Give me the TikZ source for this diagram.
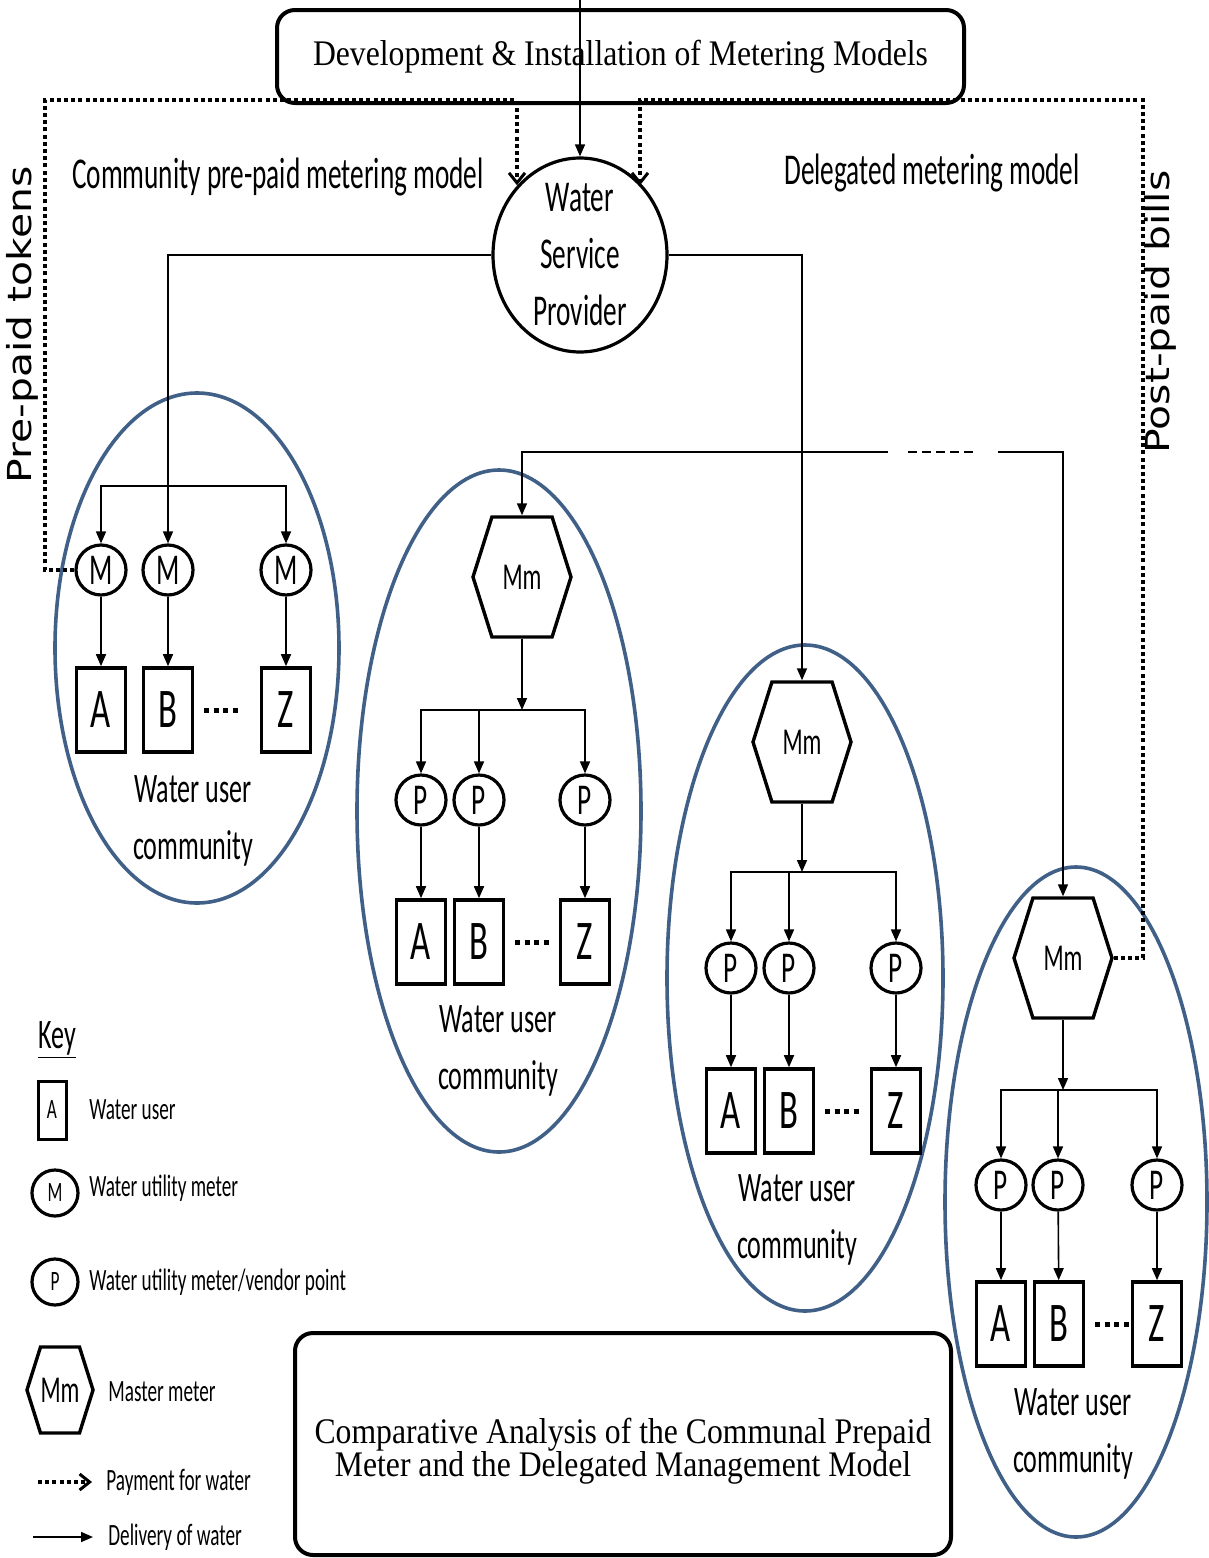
\documentclass[tikz,border=0pt]{standalone}
\usepackage{fontspec}
\setmainfont[FakeStretch=0.88]{Liberation Serif}
\newfontfamily\calfont[FakeStretch=0.62]{Carlito}
\newfontfamily\dejafont[FakeStretch=1.24]{DejaVu Sans}
\usetikzlibrary{arrows.meta,shapes.geometric,shapes.symbols}

\definecolor{ringblue}{RGB}{64,96,136}

\tikzset{
  titlebox/.style={draw, line width=2pt, rounded corners=9pt, align=center, font=\fontsize{18}{16.5}\selectfont},
  meter/.style={circle, draw, line width=1.6pt, minimum size=25pt, inner sep=0pt, font=\calfont\fontsize{22}{22}\selectfont},
  userbox/.style={rectangle, draw, line width=1.8pt, minimum width=24.5pt, minimum height=42pt, inner sep=0pt, font=\calfont\fontsize{28}{28}\selectfont},
  mmeter/.style={signal, signal to=east and west, signal pointer angle=145, draw, line width=1.7pt, minimum width=49pt, minimum height=60pt, inner sep=0pt, font=\calfont\fontsize{19}{19}\selectfont},
  commtext/.style={align=center, font=\calfont\fontsize{21}{28.5}\selectfont},
  modeltext/.style={font=\calfont\fontsize{22}{22}\selectfont},
  sidetext/.style={rotate=90, font=\dejafont\fontsize{16.5}{16.5}\selectfont},
  keytext/.style={anchor=west, inner sep=0pt, font=\calfont\fontsize{15.5}{15.5}\selectfont},
  deliv/.style={line width=0.8pt, -{Triangle[length=6pt,width=5pt]}},
  pay/.style={line width=2pt, dash pattern=on 2pt off 1.6pt, -{Straight Barb[length=5pt,width=8pt,line width=1.5pt]}},
  ring/.style={draw=ringblue, line width=1.8pt},
  moredots/.style={line width=2.5pt, dash pattern=on 2.5pt off 2.2pt},
}

\begin{document}
\begin{tikzpicture}[x=0.5pt,y=-0.5pt]
\useasboundingbox (0,0) rectangle (1209,1558);

% communities
\draw[ring] (197,648) ellipse [x radius=142, y radius=255];
\draw[ring] (499,811) ellipse [x radius=142, y radius=341];
\draw[ring] (805,978) ellipse [x radius=138, y radius=333];
\draw[ring] (1076,1202) ellipse [x radius=131, y radius=335];

% top and provider
\node[titlebox, minimum width=343.5pt, minimum height=46.5pt] (dev) at (620.5,56.5) {Development \& Installation of Metering Models};
\node[ellipse, draw, line width=1.6pt, minimum width=87pt, minimum height=97pt, inner sep=0pt,
  label={[align=center, font=\calfont\fontsize{22}{28.5}\selectfont]center:{Water\\Service\\Provider}}] (wsp) at (580,255) {};
\coordinate (feed) at (580,0);
\draw[deliv] (feed) -- (wsp.north);

\node[modeltext] (prepaid) at (278,177) {Community pre-paid metering model};
\node[modeltext] (delegated) at (932,173) {Delegated metering model};
\node[sidetext] (toklabel) at (22,325) {Pre-paid tokens};
\node[sidetext] (billlabel) at (1160,312) {Post-paid bills};

% community pre-paid
\node[meter] (m1) at (101,570) {M};
\node[meter] (m2) at (168,570) {M};
\node[meter] (m3) at (286,570) {M};
\node[userbox] (u1a) at (101,710) {A};
\node[userbox] (u1b) at (168,710) {B};
\node[userbox] (u1z) at (286,710) {Z};
\node[commtext] (c1) at (193,821) {Water user\\community};

% delegated, first
\node[mmeter] (mmb) at (522,577) {Mm};
\node[meter] (p2a) at (421,800) {P};
\node[meter] (p2b) at (479,800) {P};
\node[meter] (p2z) at (585,800) {P};
\node[userbox] (u2a) at (421,942) {A};
\node[userbox] (u2b) at (479,942) {B};
\node[userbox] (u2z) at (585,942) {Z};
\node[commtext] (c2) at (498,1051) {Water user\\community};

% delegated, second
\node[mmeter] (mmc) at (802,742) {Mm};
\node[meter] (p3a) at (731,968) {P};
\node[meter] (p3b) at (789,968) {P};
\node[meter] (p3z) at (896,968) {P};
\node[userbox] (u3a) at (731,1111) {A};
\node[userbox] (u3b) at (789,1111) {B};
\node[userbox] (u3z) at (896,1111) {Z};
\node[commtext] (c3) at (797,1220) {Water user\\community};

% delegated, third
\node[mmeter] (mmd) at (1063,958) {Mm};
\node[meter] (p4a) at (1001,1185) {P};
\node[meter] (p4b) at (1058,1185) {P};
\node[meter] (p4z) at (1157,1185) {P};
\node[userbox] (u4a) at (1001,1324) {A};
\node[userbox] (u4b) at (1059,1324) {B};
\node[userbox] (u4z) at (1157,1324) {Z};
\node[commtext] (c4) at (1073,1434) {Water user\\community};

% payment
\coordinate (tokcorner) at (45,100);
\coordinate (toktop) at (517,100);
\draw[pay] (m1.west) -| (tokcorner) -- (toktop) -- (toktop |- wsp.north west);
\coordinate (billcorner) at (1143,100);
\coordinate (billtop) at (640,100);
\draw[pay] (mmd.east) -| (billcorner) -- (billtop) -- (billtop |- wsp.north east);

% delivery
\draw[deliv] (wsp.west) -| (m2.north);
\coordinate (ja) at (168,486);
\draw[deliv] (ja) -| (m1.north);
\draw[deliv] (ja) -| (m3.north);
\draw[deliv] (m1) -- (u1a);
\draw[deliv] (m2) -- (u1b);
\draw[deliv] (m3) -- (u1z);

\draw[deliv] (wsp.east) -| (mmc.north);
\coordinate (jtop) at (802,452);
\coordinate (gapl) at (888,452);
\coordinate (dashl) at (908,452);
\coordinate (dashr) at (976,452);
\coordinate (gapr) at (998,452);
\draw[deliv] (jtop) -| (mmb.north);
\draw[line width=0.8pt] (jtop) -- (gapl);
\draw[line width=0.8pt, dash pattern=on 4.5pt off 2.5pt] (dashl) -- (dashr);
\draw[deliv] (gapr) -| (mmd.north);

\coordinate (jb) at (522,710);
\draw[deliv] (mmb.south) -- (jb);
\draw[deliv] (jb) -| (p2a.north);
\draw[deliv] (jb) -| (p2b.north);
\draw[deliv] (jb) -| (p2z.north);
\draw[deliv] (p2a) -- (u2a);
\draw[deliv] (p2b) -- (u2b);
\draw[deliv] (p2z) -- (u2z);

\coordinate (jc) at (802,872);
\draw[deliv] (mmc.south) -- (jc);
\draw[deliv] (jc) -| (p3a.north);
\draw[deliv] (jc) -| (p3b.north);
\draw[deliv] (jc) -| (p3z.north);
\draw[deliv] (p3a) -- (u3a);
\draw[deliv] (p3b) -- (u3b);
\draw[deliv] (p3z) -- (u3z);

\coordinate (jd) at (1063,1090);
\draw[deliv] (mmd.south) -- (jd);
\draw[deliv] (jd) -| (p4a.north);
\draw[deliv] (jd) -| (p4b.north);
\draw[deliv] (jd) -| (p4z.north);
\draw[deliv] (p4a) -- (u4a);
\draw[deliv] (p4b) -- (u4b);
\draw[deliv] (p4z) -- (u4z);

\draw[moredots] ([xshift=5pt]u1b.east) -- ([xshift=22pt]u1b.east);
\draw[moredots] ([xshift=5pt]u2b.east) -- ([xshift=22pt]u2b.east);
\draw[moredots] ([xshift=5pt]u3b.east) -- ([xshift=22pt]u3b.east);
\draw[moredots] ([xshift=5pt]u4b.east) -- ([xshift=22pt]u4b.east);

% key
\node[font=\calfont\fontsize{21}{21}\selectfont] (keyhead) at (57,1040) {\underline{Key}};
\node[userbox, minimum width=14pt, minimum height=29pt, line width=1.5pt, font=\calfont\fontsize{14}{14}\selectfont] (keyA) at (52,1110) {A};
\node[keytext] (keyAt) at (89,1110) {Water user};
\node[meter, minimum size=23pt, font=\calfont\fontsize{14}{14}\selectfont] (keyM) at (55,1193) {M};
\node[keytext] (keyMt) at (89,1188) {Water utility meter};
\node[meter, minimum size=23pt, font=\calfont\fontsize{14}{14}\selectfont] (keyP) at (55,1282) {P};
\node[keytext] (keyPt) at (89,1282) {Water utility meter/vendor point};
\node[mmeter, minimum width=32pt, minimum height=43pt, font=\calfont\fontsize{19}{19}\selectfont] (keyMm) at (60,1390) {Mm};
\node[keytext] (keyMmt) at (108,1392) {Master meter};
\coordinate (payA) at (38,1482);
\coordinate (payB) at (92,1482);
\draw[pay] (payA) -- (payB);
\node[keytext] (payt) at (106,1482) {Payment for water};
\coordinate (delA) at (33,1537);
\coordinate (delB) at (93,1537);
\draw[deliv] (delA) -- (delB);
\node[keytext] (delt) at (108,1537) {Delivery of water};

% bottom title
\node[titlebox, minimum width=328pt, minimum height=111pt,
  label={[align=center, yshift=-3.5pt, font=\fontsize{18}{16.5}\selectfont]center:{Comparative Analysis of the Communal Prepaid\\Meter and the Delegated Management Model}}] (compare) at (623,1444) {};
\end{tikzpicture}
\end{document}
